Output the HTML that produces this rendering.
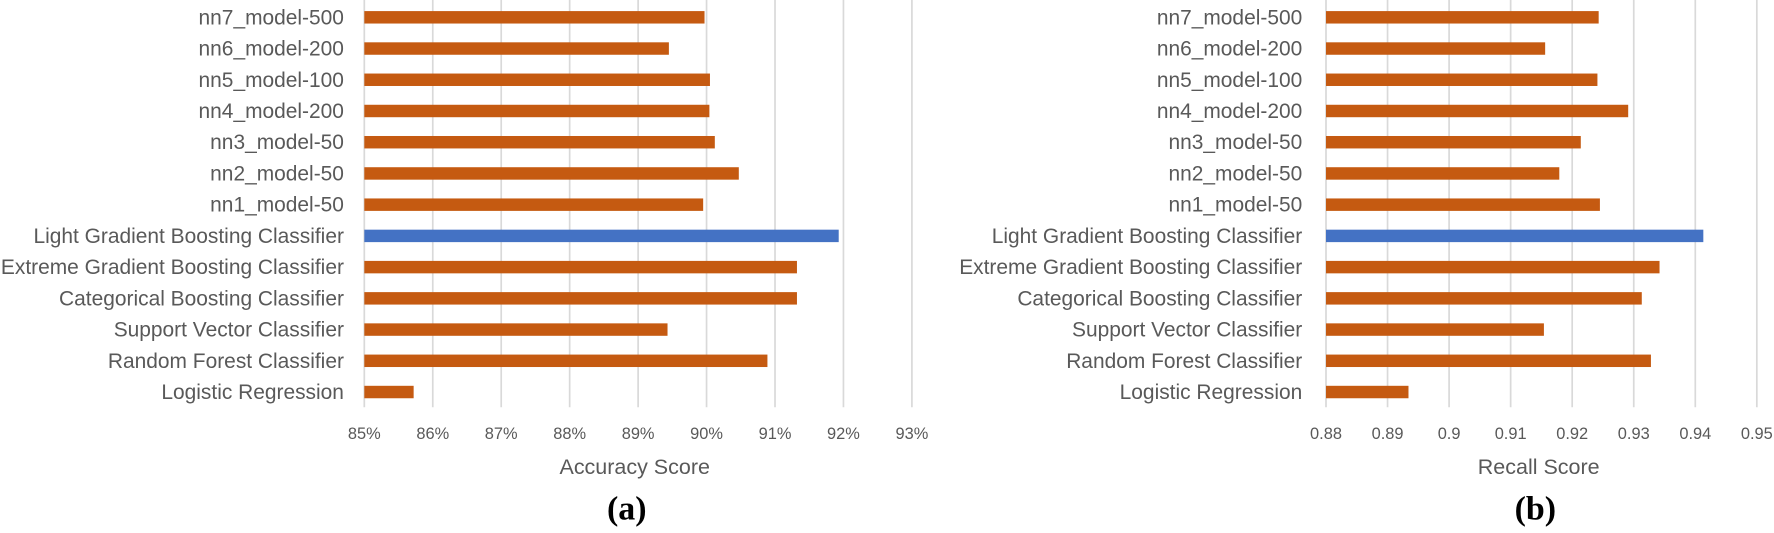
<!DOCTYPE html>
<html><head><meta charset="utf-8"><style>
body{margin:0;background:#fff;}
svg{display:block;}
</style></head><body>
<svg width="1774" height="533" xmlns="http://www.w3.org/2000/svg" font-family="Liberation Sans, sans-serif">
<g transform="scale(1.1314)">
<g stroke="#d9d9d9" stroke-width="1.5">
<line x1="322" x2="322" y1="0" y2="360"/><line x1="382.5" x2="382.5" y1="0" y2="360"/><line x1="443" x2="443" y1="0" y2="360"/><line x1="503.5" x2="503.5" y1="0" y2="360"/><line x1="564" x2="564" y1="0" y2="360"/><line x1="624.5" x2="624.5" y1="0" y2="360"/><line x1="685" x2="685" y1="0" y2="360"/><line x1="745.5" x2="745.5" y1="0" y2="360"/><line x1="806" x2="806" y1="0" y2="360"/>
<line x1="1172" x2="1172" y1="0" y2="360"/><line x1="1226.4" x2="1226.4" y1="0" y2="360"/><line x1="1280.8" x2="1280.8" y1="0" y2="360"/><line x1="1335.2" x2="1335.2" y1="0" y2="360"/><line x1="1389.6" x2="1389.6" y1="0" y2="360"/><line x1="1444" x2="1444" y1="0" y2="360"/><line x1="1498.4" x2="1498.4" y1="0" y2="360"/><line x1="1552.8" x2="1552.8" y1="0" y2="360"/>
</g>
<g font-size="14.5" fill="#595959" text-anchor="middle">
<text x="322" y="388">85%</text><text x="382.5" y="388">86%</text><text x="443" y="388">87%</text><text x="503.5" y="388">88%</text><text x="564" y="388">89%</text><text x="624.5" y="388">90%</text><text x="685" y="388">91%</text><text x="745.5" y="388">92%</text><text x="806" y="388">93%</text>
<text x="1172" y="388">0.88</text><text x="1226.4" y="388">0.89</text><text x="1280.8" y="388">0.9</text><text x="1335.2" y="388">0.91</text><text x="1389.6" y="388">0.92</text><text x="1444" y="388">0.93</text><text x="1498.4" y="388">0.94</text><text x="1552.8" y="388">0.95</text>
</g>
<g fill="#c55a11">
<rect x="322" y="9.8" width="300.7" height="11"/><rect x="322" y="37.4" width="269.2" height="11"/><rect x="322" y="65" width="305.5" height="11"/><rect x="322" y="92.6" width="305" height="11"/><rect x="322" y="120.2" width="309.8" height="11"/><rect x="322" y="147.8" width="331" height="11"/><rect x="322" y="175.4" width="299.5" height="11"/><rect x="322" y="203" width="419.3" height="11" fill="#4472c4"/><rect x="322" y="230.6" width="382.4" height="11"/><rect x="322" y="258.2" width="382.4" height="11"/><rect x="322" y="285.8" width="268" height="11"/><rect x="322" y="313.4" width="356.3" height="11"/><rect x="322" y="341" width="43.6" height="11"/>
<rect x="1172" y="9.8" width="241" height="11"/><rect x="1172" y="37.4" width="193.7" height="11"/><rect x="1172" y="65" width="239.9" height="11"/><rect x="1172" y="92.6" width="267.1" height="11"/><rect x="1172" y="120.2" width="225.2" height="11"/><rect x="1172" y="147.8" width="206.2" height="11"/><rect x="1172" y="175.4" width="242.1" height="11"/><rect x="1172" y="203" width="333.5" height="11" fill="#4472c4"/><rect x="1172" y="230.6" width="294.8" height="11"/><rect x="1172" y="258.2" width="279.1" height="11"/><rect x="1172" y="285.8" width="192.6" height="11"/><rect x="1172" y="313.4" width="287.2" height="11"/><rect x="1172" y="341" width="72.9" height="11"/>
</g>
<g font-size="18.5" fill="#595959" text-anchor="end">
<text x="304" y="21.5">nn7_model-500</text><text x="304" y="49.1">nn6_model-200</text><text x="304" y="76.7">nn5_model-100</text><text x="304" y="104.3">nn4_model-200</text><text x="304" y="131.9">nn3_model-50</text><text x="304" y="159.5">nn2_model-50</text><text x="304" y="187.1">nn1_model-50</text><text x="304" y="214.7">Light Gradient Boosting Classifier</text><text x="304" y="242.3">Extreme Gradient Boosting Classifier</text><text x="304" y="269.9">Categorical Boosting Classifier</text><text x="304" y="297.5">Support Vector Classifier</text><text x="304" y="325.1">Random Forest Classifier</text><text x="304" y="352.7">Logistic Regression</text>
<text x="1151" y="21.5">nn7_model-500</text><text x="1151" y="49.1">nn6_model-200</text><text x="1151" y="76.7">nn5_model-100</text><text x="1151" y="104.3">nn4_model-200</text><text x="1151" y="131.9">nn3_model-50</text><text x="1151" y="159.5">nn2_model-50</text><text x="1151" y="187.1">nn1_model-50</text><text x="1151" y="214.7">Light Gradient Boosting Classifier</text><text x="1151" y="242.3">Extreme Gradient Boosting Classifier</text><text x="1151" y="269.9">Categorical Boosting Classifier</text><text x="1151" y="297.5">Support Vector Classifier</text><text x="1151" y="325.1">Random Forest Classifier</text><text x="1151" y="352.7">Logistic Regression</text>
</g>
<g font-size="19" fill="#595959" text-anchor="middle">
<text x="561" y="419">Accuracy Score</text><text x="1360" y="419">Recall Score</text>
</g>
<g font-size="30" font-weight="bold" font-family="Liberation Serif, serif" text-anchor="middle">
<text x="554" y="459">(a)</text><text x="1357" y="459">(b)</text>
</g>
</g>
</svg>
</body></html>
